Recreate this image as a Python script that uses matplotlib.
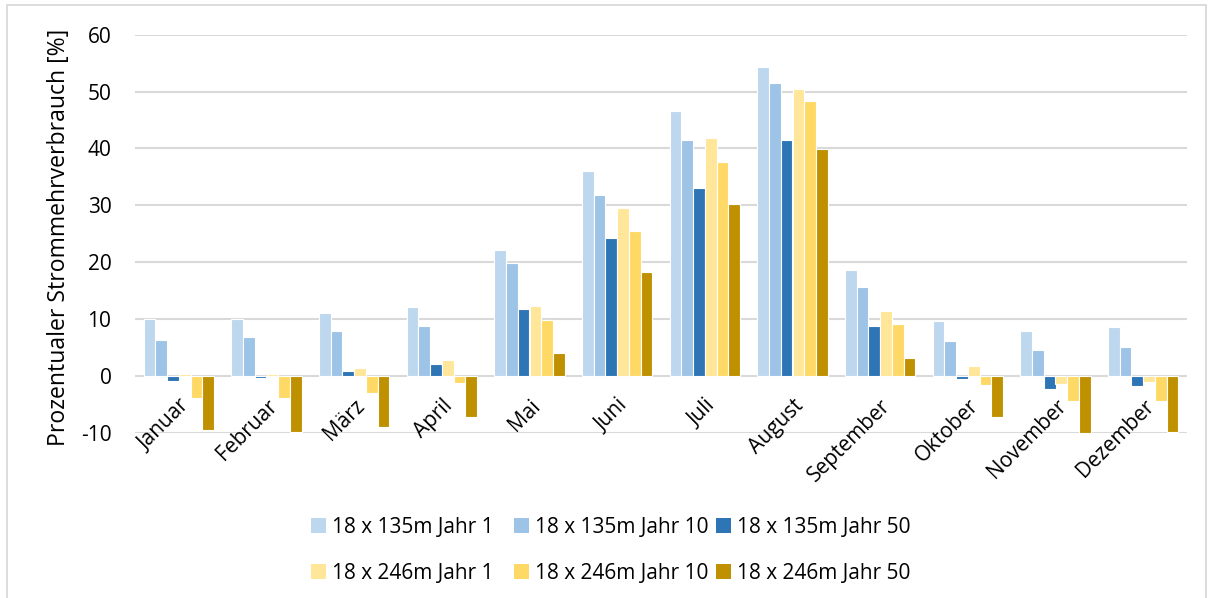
import numpy as np
import matplotlib
matplotlib.use('Agg')
import matplotlib.pyplot as plt
from matplotlib.patches import Rectangle, Patch

plt.rcParams['font.family'] = ['Open Sans', 'DejaVu Sans']
plt.rcParams['axes.unicode_minus'] = False

months = ['Januar', 'Februar', 'März', 'April', 'Mai', 'Juni', 'Juli',
          'August', 'September', 'Oktober', 'November', 'Dezember']

labels = ['18 x 135m Jahr 1', '18 x 135m Jahr 10', '18 x 135m Jahr 50',
          '18 x 246m Jahr 1', '18 x 246m Jahr 10', '18 x 246m Jahr 50']

s135_j1 = [10.0, 10.0, 11.0, 12.1, 22.1, 36.0, 46.6, 54.4, 18.6, 9.7, 7.8, 8.6]
s135_j10 = [6.3, 6.8, 7.9, 8.8, 19.9, 31.8, 41.5, 51.5, 15.6, 6.2, 4.5, 5.0]
s135_j50 = [-0.9, -0.3, 0.8, 2.0, 11.8, 24.2, 33.0, 41.4, 8.7, -0.6, -2.4, -1.7]
s246_j1 = [0.3, 0.3, 1.4, 2.8, 12.2, 29.6, 41.8, 50.4, 11.4, 1.7, -1.5, -1.0]
s246_j10 = [-3.9, -3.9, -3.0, -1.3, 9.9, 25.4, 37.6, 48.4, 9.2, -1.6, -4.4, -4.4]
s246_j50 = [-9.5, -9.8, -9.0, -7.3, 4.1, 18.2, 30.3, 39.9, 3.1, -7.3, -10.0, -9.9]

series = [s135_j1, s135_j10, s135_j50, s246_j1, s246_j10, s246_j50]
colors = ['#BDD7EE', '#9DC3E6', '#2E75B6', '#FFE699', '#FFD966', '#BF9000']

W, H = 1212, 598
fs = 15
fig = plt.figure(figsize=(W / 100, H / 100), dpi=100)
ax = fig.add_axes([135 / W, 1 - 432.7 / H, 1052 / W, 398 / H])

# outer chart frame
fig.patches.append(Rectangle((7 / W, -0.05), 1199 / W, 1.05 - 5.5 / H,
                             transform=fig.transFigure, fill=False,
                             edgecolor='#D9D9D9', linewidth=1.3))

x = np.arange(len(months))
w = 0.134
for i, (vals, c) in enumerate(zip(series, colors)):
    ax.bar(x + (i - 2.5) * w, vals, width=w, color=c, edgecolor='white',
           linewidth=0.8, zorder=3)

ax.set_xlim(-0.5, len(months) - 0.5)
ax.set_ylim(-10, 60)
ax.set_yticks(range(-10, 61, 10))
ax.yaxis.grid(True, color='#D9D9D9', linewidth=1.5, zorder=0)
for sp in ax.spines.values():
    sp.set_visible(False)
ax.tick_params(axis='y', length=0, labelsize=fs, colors='black', pad=17)
ax.set_xticks([])
ax.set_ylabel('Prozentualer Strommehrverbrauch [%]', fontsize=16.6)
ax.yaxis.set_label_coords((71 - 135) / 1052, 0.49)

# month labels sit below the zero line, like Excel's category axis
for xi, m in zip(x, months):
    ax.annotate(m, xy=(xi, 0), xytext=(0, -14), textcoords='offset points',
                ha='right', va='top', rotation=45, rotation_mode='anchor',
                fontsize=fs, annotation_clip=False)

# legend: three equally wide columns, filled row by row
col_x = [315, 518, 720]
for k in range(3):
    handles = [Patch(facecolor=colors[k]), Patch(facecolor=colors[k + 3])]
    fig.legend(handles, [labels[k], labels[k + 3]], loc='upper left',
               bbox_to_anchor=((col_x[k] - 4) / W, 1 - 517 / H), frameon=False,
               fontsize=fs, handlelength=0.7, handleheight=0.7,
               handletextpad=0.3, labelspacing=1.2, borderpad=0,
               borderaxespad=0)

fig.savefig('out.png', dpi=100)
